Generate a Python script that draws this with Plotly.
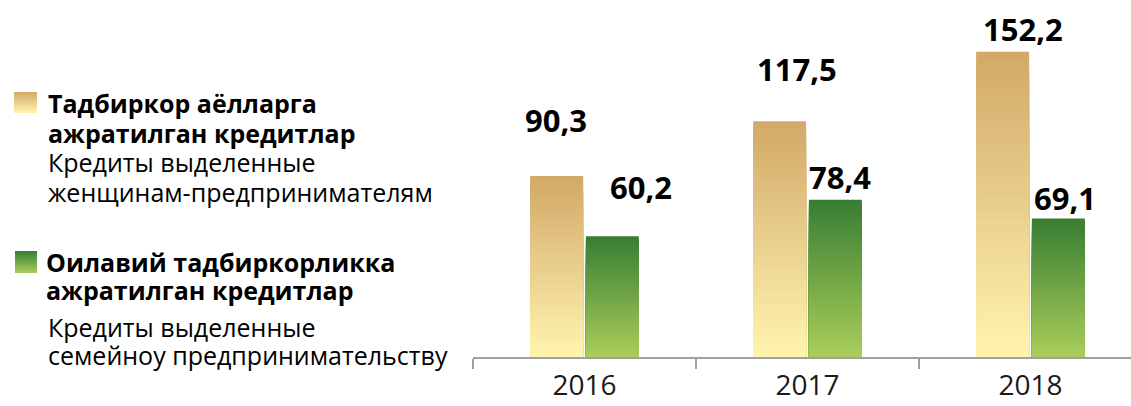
import plotly.graph_objects as go

# ---- data ----
years = ["2016", "2017", "2018"]
women_credits = [90.3, 117.5, 152.2]      # Тадбиркор аёлларга ажратилган кредитлар
family_credits = [60.2, 78.4, 69.1]       # Оилавий тадбиркорликка ажратилган кредитлар

series_names = ["Тадбиркор аёлларга ажратилган кредитлар",
                "Оилавий тадбиркорликка ажратилган кредитлар"]
legend_bold = [["Тадбиркор аёлларга", "ажратилган кредитлар"],
               ["Оилавий тадбиркорликка", "ажратилган кредитлар"]]
legend_regular = [["Кредиты выделенные", "женщинам-предпринимателям"],
                  ["Кредиты выделенные", "семейноу предпринимательству"]]

# ---- style ----
FONT = "Open Sans"
W, H = 1131, 406
ML, MB = 473, 49
PW, PH = W - ML, H - MB
gold_top, gold_bottom = (210, 168, 104), (255, 245, 175)
green_top, green_bottom = (56, 125, 50), (170, 206, 90)
N_STEPS = 40


def mix(c1, c2, t):
    return "rgb(%d,%d,%d)" % tuple(round(a + (b - a) * t) for a, b in zip(c1, c2))


def px_x(px):
    return (px - ML) / PW


def px_y(py):
    return 1 - py / PH


fig = go.Figure()


def add_gradient_bars(values, top_c, bottom_c, group, name):
    # tallest (darkest top) first; progressively shorter, lighter layers over it
    for j in range(N_STEPS):
        frac = (N_STEPS - j) / N_STEPS
        tmid = (N_STEPS - j - 0.5) / N_STEPS
        fig.add_trace(go.Bar(
            x=years,
            y=[v * frac for v in values],
            offsetgroup=group,
            name=name,
            showlegend=False,
            hoverinfo="skip",
            marker=dict(color=mix(bottom_c, top_c, tmid), line=dict(width=0)),
        ))


add_gradient_bars(women_credits, gold_top, gold_bottom, "a", series_names[0])
add_gradient_bars(family_credits, green_top, green_bottom, "b", series_names[1])

# value labels (hand-placed offsets, as in the reference)
gold_dx = [-29, -11, -8]
gold_dy = [56, 52, 23]
green_dx = [56, 32, 34]
green_dy = [49, 23, 20]
annotations = []
for i, yr in enumerate(years):
    for vals, dxs, dys in ((women_credits, gold_dx, gold_dy),
                           (family_credits, green_dx, green_dy)):
        annotations.append(dict(
            x=i, y=vals[i], xref="x", yref="y",
            text="<b>" + ("%.1f" % vals[i]).replace(".", ",") + "</b>",
            showarrow=False, xanchor="center", yanchor="middle",
            xshift=dxs[i], yshift=dys[i],
            font=dict(family=FONT, size=31, color="#000000"),
        ))

# legend texts: blocks of lines; glyph size FS, line pitch set via the outer font size
FS = 25


def line_html(txt, bold):
    t = "<b>%s</b>" % txt if bold else txt
    return "<span style='font-size:%dpx'>%s</span>" % (FS, t)


legend_blocks = [
    # x px, first baseline, last baseline, lines [(text, bold)]
    (48, 113, 202, [(legend_bold[0][0], True), (legend_bold[0][1], True),
                    (legend_regular[0][0], False), (legend_regular[0][1], False)]),
    (46, 272, 300, [(legend_bold[1][0], True), (legend_bold[1][1], True)]),
    (48, 337, 365, [(legend_regular[1][0], False), (legend_regular[1][1], False)]),
]
for xpx, b1, bn, lines in legend_blocks:
    pitch = (bn - b1) / (len(lines) - 1)
    center = (b1 + bn) / 2 - 0.388 * FS
    annotations.append(dict(
        x=px_x(xpx), y=px_y(center), xref="paper", yref="paper",
        text="<br>".join(line_html(t, b) for t, b in lines),
        showarrow=False, xanchor="left", yanchor="middle", align="left",
        xshift=-2,
        font=dict(family=FONT, size=pitch / 1.3, color="#000000"),
    ))

# legend swatches with vertical gradient
shapes = []
for (x0, x1, y0, y1, tc, bc) in ((14, 37, 92, 113, gold_top, gold_bottom),
                                  (15, 37, 251, 273, green_top, green_bottom)):
    n = 12
    for k in range(n):
        ya = y0 + (y1 - y0) * k / n
        yb = min(y0 + (y1 - y0) * (k + 1) / n + 0.7, y1)
        shapes.append(dict(type="rect", xref="paper", yref="paper",
                           x0=px_x(x0), x1=px_x(x1),
                           y0=px_y(yb), y1=px_y(ya),
                           fillcolor=mix(tc, bc, (k + 0.5) / n), line=dict(width=0),
                           layer="above"))

fig.update_layout(
    width=W, height=H,
    margin=dict(l=ML, r=0, t=0, b=MB, pad=0, autoexpand=False),
    paper_bgcolor="white", plot_bgcolor="white",
    barmode="group", bargap=0.5, bargroupgap=0.05,
    showlegend=False,
    annotations=annotations,
    shapes=shapes,
    xaxis=dict(
        type="category", range=[-0.5, -0.5 + PW / 223.0],
        showline=True, linecolor="#a0a0a0", linewidth=2,
        ticks="outside", tickson="boundaries", ticklen=10, tickwidth=2, tickcolor="#a0a0a0",
        ticklabelstandoff=2, automargin=False,
        tickfont=dict(family=FONT, size=28, color="#1a1a1a"),
        showgrid=False, zeroline=False, fixedrange=True,
    ),
    yaxis=dict(
        range=[0, 178], visible=False, showgrid=False, zeroline=False, fixedrange=True,
        automargin=False,
    ),
)

fig.write_html(
    "out.html",
    config={"displayModeBar": False},
    post_script="document.body.style.margin='0';document.body.style.overflow='hidden';"
                "document.documentElement.style.overflow='hidden';",
)
